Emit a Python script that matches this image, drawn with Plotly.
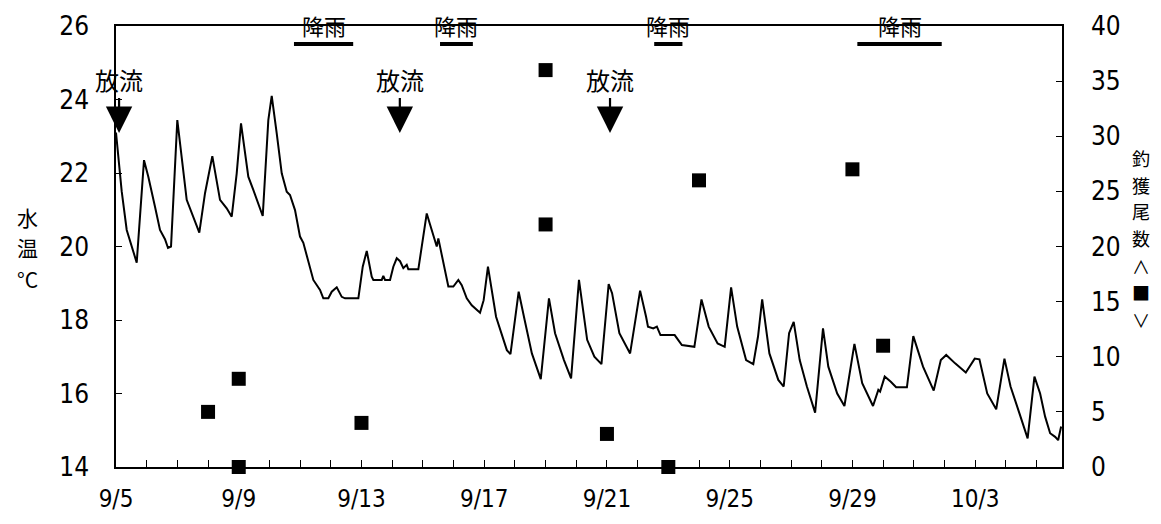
import plotly.graph_objects as go
import pandas as pd

BASE = pd.Timestamp("2000-09-05")

# water temperature trace (days since 9/5, deg C)
temp_day = [0.000, 0.186, 0.349, 0.564, 0.675, 0.913, 1.053, 1.271, 1.434, 1.597,
             1.695, 1.793, 1.998, 2.304, 2.520, 2.715, 2.901, 3.139, 3.390, 3.608,
             3.771, 3.934, 4.074, 4.312, 4.475, 4.782, 4.964, 5.075, 5.238, 5.401,
             5.564, 5.671, 5.834, 5.997, 6.105, 6.323, 6.431, 6.649, 6.757, 6.920,
             7.031, 7.194, 7.357, 7.464, 7.898, 8.041, 8.172, 8.334, 8.387, 8.660,
             8.712, 8.768, 8.931, 9.038, 9.149, 9.257, 9.364, 9.475, 9.527, 9.853,
             9.909, 10.127, 10.235, 10.453, 10.505, 10.561, 10.668, 10.831, 10.994, 11.157,
             11.268, 11.431, 11.594, 11.809, 11.864, 11.982, 12.122, 12.386, 12.562, 12.738,
             12.855, 13.123, 13.318, 13.553, 13.843, 14.110, 14.309, 14.599, 14.831, 15.088,
             15.355, 15.590, 15.821, 16.056, 16.167, 16.405, 16.754, 17.080, 17.275, 17.337,
             17.510, 17.627, 17.744, 18.207, 18.442, 18.849, 19.081, 19.316, 19.606, 19.837,
             20.046, 20.244, 20.535, 20.769, 20.923, 21.059, 21.294, 21.584, 21.760, 21.936,
             22.086, 22.282, 22.516, 22.784, 23.041, 23.214, 23.504, 23.739, 24.065, 24.319,
             24.671, 24.844, 24.902, 25.052, 25.251, 25.424, 25.776, 25.984, 26.301, 26.649,
             26.881, 27.057, 27.347, 27.695, 27.986, 28.139, 28.393, 28.686, 28.954, 29.153,
             29.443, 29.710, 29.932, 30.117, 30.280, 30.443, 30.606, 30.704, 30.802]
temp_c = [23.10, 21.50, 20.45, 19.90, 19.56, 22.35, 21.90, 21.08, 20.45, 20.20,
          19.96, 20.00, 23.44, 21.27, 20.80, 20.38, 21.45, 22.46, 21.27, 21.04,
          20.81, 21.99, 23.35, 21.90, 21.54, 20.83, 23.44, 24.10, 23.08, 21.99,
          21.49, 21.40, 20.99, 20.27, 20.10, 19.45, 19.09, 18.82, 18.59, 18.59,
          18.77, 18.89, 18.63, 18.59, 18.59, 19.45, 19.88, 19.18, 19.09, 19.09,
          19.20, 19.09, 19.09, 19.45, 19.68, 19.60, 19.41, 19.50, 19.38, 19.38,
          19.70, 20.90, 20.60, 20.00, 20.22, 20.00, 19.63, 18.91, 18.91, 19.09,
          18.95, 18.59, 18.40, 18.22, 18.20, 18.54, 19.45, 18.09, 17.64, 17.18,
          17.07, 18.77, 18.00, 17.09, 16.39, 18.59, 17.64, 16.91, 16.41, 19.09,
          17.46, 17.00, 16.80, 18.98, 18.73, 17.64, 17.09, 18.80, 18.09, 17.82,
          17.77, 17.82, 17.59, 17.59, 17.32, 17.27, 18.56, 17.82, 17.36, 17.27,
          18.89, 17.82, 16.91, 16.80, 17.55, 18.56, 17.09, 16.37, 16.19, 17.64,
          17.95, 16.91, 16.19, 15.48, 17.77, 16.73, 16.00, 15.66, 17.35, 16.28,
          15.66, 16.10, 16.05, 16.46, 16.32, 16.17, 16.17, 17.56, 16.73, 16.08,
          16.91, 17.05, 16.82, 16.57, 16.95, 16.93, 16.00, 15.57, 16.95, 16.19,
          15.46, 14.78, 16.46, 16.00, 15.37, 14.92, 14.82, 14.73, 15.10]

# catch (number of fish) by date
catch_date = ["2000-09-08", "2000-09-09", "2000-09-09", "2000-09-13", "2000-09-19",
              "2000-09-19", "2000-09-21", "2000-09-23", "2000-09-24", "2000-09-29",
              "2000-09-30"]
catch_count = [5, 8, 0, 4, 36, 22, 3, 0, 26, 27, 11]

# events (days since 9/5)
release_day = [0.10, 9.25, 16.10]
rain_start_day = [5.80, 10.56, 17.54, 24.16]
rain_end_day = [7.73, 11.63, 18.46, 26.91]

x_tick_dates = ["2000-09-05", "2000-09-09", "2000-09-13", "2000-09-17",
                "2000-09-21", "2000-09-25", "2000-09-29", "2000-10-03"]
x_tick_labels = ["9/5", "9/9", "9/13", "9/17", "9/21", "9/25", "9/29", "10/3"]
x_end_day = 30.83

y_left_ticks = [14, 16, 18, 20, 22, 24, 26]
y_right_ticks = [0, 5, 10, 15, 20, 25, 30, 35, 40]

left_title_chars = ["水", "温", "°C"]
right_title_chars = ["釣", "獲", "尾", "数", "∧", "■", "∨"]


def to_dt(d):
    return BASE + pd.to_timedelta(d, unit="D")


NUM_FONT = "Liberation Sans Narrow, DejaVu Sans Condensed, Arial Narrow, Roboto, sans-serif"
JP_FONT = "Noto Sans CJK JP, sans-serif"

# page has an 8px body margin: figure is placed at (8, 8)
PLOT_TOP, PLOT_H = 26, 441


def paper_y(px):
    return 1 - (px - PLOT_TOP) / PLOT_H


fig = go.Figure()
fig.add_trace(go.Scatter(
    x=[to_dt(d) for d in temp_day], y=temp_c, mode="lines",
    line=dict(color="black", width=2), yaxis="y", showlegend=False))
fig.add_trace(go.Scatter(
    x=pd.to_datetime(catch_date), y=catch_count, mode="markers",
    marker=dict(symbol="square", size=14, color="black"),
    yaxis="y2", showlegend=False, cliponaxis=False))

annotations = []
for d in release_day:
    annotations.append(dict(
        x=to_dt(d), y=paper_y(133), xref="x", yref="paper", text="放流",
        showarrow=True, ax=0, ay=-54, arrowhead=2, arrowsize=2.4,
        arrowwidth=2.2, arrowcolor="black",
        font=dict(family=JP_FONT, size=24, color="black")))

shapes = []
for s, e in zip(rain_start_day, rain_end_day):
    shapes.append(dict(type="line", xref="x", yref="paper",
                       x0=to_dt(s), x1=to_dt(e), y0=paper_y(44), y1=paper_y(44),
                       line=dict(color="black", width=4)))
    annotations.append(dict(
        x=to_dt((s + e) / 2), y=paper_y(25), xref="x", yref="paper", text="降雨",
        showarrow=False, xanchor="center", yanchor="middle",
        font=dict(family=JP_FONT, size=22, color="black")))

for ch, py in zip(left_title_chars, [217, 247, 279]):
    annotations.append(dict(
        x=-0.094, y=paper_y(py), xref="paper", yref="paper", text=ch,
        showarrow=False, xanchor="center", yanchor="middle",
        font=dict(family=JP_FONT, size=21, color="black")))
for ch, py in zip(right_title_chars, [158, 185, 211, 238, 266, 292, 320]):
    annotations.append(dict(
        x=1.0835, y=paper_y(py), xref="paper", yref="paper", text=ch,
        showarrow=False, xanchor="center", yanchor="middle",
        font=dict(family=JP_FONT, size=18, color="black")))

fig.update_layout(
    width=1145, height=508,
    margin=dict(l=108, r=91, t=18, b=49, autoexpand=False),
    paper_bgcolor="white", plot_bgcolor="white",
    xaxis=dict(
        type="date", range=[BASE, to_dt(x_end_day)], automargin=False,
        tickmode="array", tickvals=pd.to_datetime(x_tick_dates), ticktext=x_tick_labels,
        ticks="inside", ticklen=7, tickwidth=1.2, tickcolor="black",
        minor=dict(dtick=86400000, tick0=BASE, ticks="inside", ticklen=7,
                   tickwidth=1.2, tickcolor="black", showgrid=False),
        showline=True, linecolor="black", linewidth=1.5, mirror=True,
        showgrid=False, zeroline=False, ticklabelstandoff=9,
        tickfont=dict(family=NUM_FONT, size=24, color="black")),
    yaxis=dict(
        range=[14, 26], tickmode="array", tickvals=y_left_ticks, automargin=False,
        ticks="inside", ticklen=6, tickwidth=1.2, tickcolor="black",
        showline=True, linecolor="black", linewidth=1.5,
        showgrid=False, zeroline=False, ticklabelstandoff=20,
        tickfont=dict(family=NUM_FONT, size=26, color="black")),
    yaxis2=dict(
        range=[0, 40], overlaying="y", side="right", tickmode="array",
        tickvals=y_right_ticks, automargin=False,
        ticks="inside", ticklen=6, tickwidth=1.2, tickcolor="black",
        showline=True, linecolor="black", linewidth=1.5,
        showgrid=False, zeroline=False, ticklabelstandoff=22,
        tickfont=dict(family=NUM_FONT, size=26, color="black")),
    annotations=annotations, shapes=shapes,
)

fig.write_html("out.html")
